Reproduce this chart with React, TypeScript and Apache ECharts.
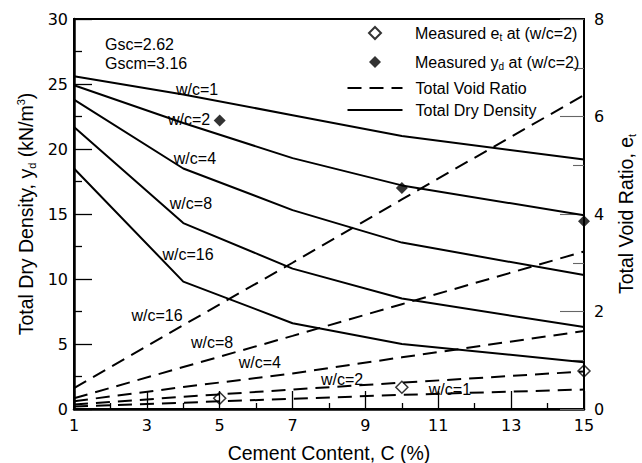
import React, { useEffect, useRef } from 'react';
import * as echarts from 'echarts';

// ---- data ----
const cementContent = [1, 4, 7, 10, 15];
const wcLabels = ['w/c=1', 'w/c=2', 'w/c=4', 'w/c=8', 'w/c=16'];

// total dry density (kN/m3), left axis
const dryDensityWc1 = [25.6, 24.2, 22.6, 21.0, 19.2];
const dryDensityWc2 = [24.9, 22.0, 19.3, 17.2, 14.9];
const dryDensityWc4 = [23.8, 18.5, 15.3, 12.8, 10.3];
const dryDensityWc8 = [21.7, 14.3, 10.8, 8.5, 6.3];
const dryDensityWc16 = [18.5, 9.8, 6.6, 5.0, 3.6];

// total void ratio, right axis
const voidRatioWc1 = [0.05, 0.13, 0.21, 0.29, 0.4];
const voidRatioWc2 = [0.09, 0.25, 0.4, 0.54, 0.77];
const voidRatioWc4 = [0.16, 0.45, 0.73, 1.06, 1.6];
const voidRatioWc8 = [0.22, 0.86, 1.5, 2.15, 3.23];
const voidRatioWc16 = [0.43, 1.72, 3.0, 4.3, 6.44];

// measured values at w/c=2
const measuredCement = [5, 10, 15];
const measuredVoidRatio = [0.22, 0.445, 0.78];
const measuredDryDensity = [22.2, 17.0, 14.45];

// ticks
const xTickValues = [1, 3, 5, 7, 9, 11, 13, 15];
const xMinorTickValues = [2, 4, 6, 8, 10, 12, 14];

// axis titles
const xTitle = 'Cement Content, C (%)';
const leftTitle = 'Total Dry Density, y{sub|d} (kN/m{sup|3})';
const rightTitle = 'Total Void Ratio, e{sub|t}';

// annotation anchors (data units)
const solidLabelAnchors = [
  [4.38, 24.54],
  [4.16, 22.3],
  [4.32, 19.3],
  [4.21, 15.77],
  [4.13, 11.85],
];
const dashedLabelAnchors = [
  [11.32, 0.41],
  [8.36, 0.615],
  [6.1, 0.964],
  [4.79, 1.354],
  [3.28, 1.91],
];

const FONT = '"Liberation Sans", Arial, Helvetica, sans-serif';
const NUM_FONT = '"DejaVu Sans", "Liberation Sans", sans-serif';

export default function App() {
  const ref = useRef<HTMLDivElement>(null);
  useEffect(() => {
    if (!ref.current) return;
    const chart = echarts.init(ref.current, null, { renderer: 'svg' });

    const dryAll = [dryDensityWc1, dryDensityWc2, dryDensityWc4, dryDensityWc8, dryDensityWc16];
    const voidAll = [voidRatioWc1, voidRatioWc2, voidRatioWc4, voidRatioWc8, voidRatioWc16];

    const labelMark = (coord: number[], text: string) => ({
      silent: true,
      symbol: 'circle',
      symbolSize: 1,
      itemStyle: { color: 'rgba(0,0,0,0)' },
      label: {
        show: true,
        position: 'inside',
        formatter: () => text,
        fontSize: 16,
        color: '#000',
        fontFamily: FONT,
      },
      data: [{ coord }],
    });

    const solidSeries = dryAll.map((arr, i) => ({
      type: 'line',
      name: 'Total Dry Density',
      yAxisIndex: 0,
      data: cementContent.map((c, j) => [c, arr[j]]),
      symbol: 'none',
      lineStyle: { color: '#000', width: 2 },
      itemStyle: { color: '#000' },
      markPoint: labelMark(solidLabelAnchors[i], wcLabels[i]),
    }));

    const dashedSeries = voidAll.map((arr, i) => ({
      type: 'line',
      name: 'Total Void Ratio',
      yAxisIndex: 1,
      data: cementContent.map((c, j) => [c, arr[j]]),
      symbol: 'none',
      lineStyle: { color: '#000', width: 2, type: [14, 8] },
      itemStyle: { color: '#000' },
      markPoint: labelMark(dashedLabelAnchors[i], wcLabels[i]),
    }));

    const legendNames: Record<string, string> = {
      'Measured e_t': '{gap|}Measured e{sub|t} at (w/c=2)',
      'Measured y_d': '{gap|}Measured y{sub|d} at (w/c=2)',
      'Total Void Ratio': '{gap|}Total Void Ratio',
      'Total Dry Density': '{gap|}Total Dry Density',
    };
    const makeRich = (gapWidth: number) => ({
      sub: { fontSize: 10, verticalAlign: 'bottom', lineHeight: 18, fontFamily: FONT, color: '#000' },
      gap: { width: gapWidth, lineHeight: 18 },
    });
    const hiddenMarker = { color: 'rgba(0,0,0,0)', borderColor: 'rgba(0,0,0,0)', borderWidth: 0 };
    const titleRich = {
      sub: { fontSize: 11, verticalAlign: 'bottom', lineHeight: 22, fontFamily: FONT, fill: '#000' },
      sup: { fontSize: 11, verticalAlign: 'top', lineHeight: 22, fontFamily: FONT, fill: '#000' },
    };
    const titleStyle = (text: string) => ({
      text,
      fontSize: 19.5,
      lineHeight: 22,
      fontFamily: FONT,
      fill: '#000',
      align: 'center',
      verticalAlign: 'middle',
      rich: titleRich,
    });

    const option: any = {
      animation: false,
      grid: {
        left: 74,
        right: 58,
        top: 19,
        bottom: 54,
        show: true,
        borderColor: '#000',
        borderWidth: 2,
        outerBoundsMode: 'none',
      },
      legend: [
        {
          orient: 'vertical',
          left: 368,
          top: 24,
          padding: 0,
          itemWidth: 12,
          itemHeight: 12,
          itemGap: 11,
          selectedMode: false,
          formatter: (name: string) => legendNames[name] || name,
          textStyle: { fontSize: 16, color: '#000', lineHeight: 18, fontFamily: FONT, rich: makeRich(29) },
          data: ['Measured e_t', 'Measured y_d'],
        },
        {
          orient: 'vertical',
          left: 346.5,
          top: 79,
          padding: 0,
          itemWidth: 55,
          itemHeight: 12,
          itemGap: 4,
          selectedMode: false,
          formatter: (name: string) => legendNames[name] || name,
          textStyle: { fontSize: 16, color: '#000', lineHeight: 18, fontFamily: FONT, rich: makeRich(8) },
          data: [
            { name: 'Total Void Ratio', itemStyle: hiddenMarker },
            { name: 'Total Dry Density', itemStyle: hiddenMarker },
          ],
        },
      ],
      xAxis: [
        {
          type: 'value',
          min: 1,
          max: 15,
          splitLine: { show: false },
          axisLine: { show: true, lineStyle: { color: '#000', width: 2.5 } },
          axisTick: {
            show: true,
            inside: true,
            length: 18,
            customValues: xTickValues,
            lineStyle: { color: '#000', width: 1.3 },
          },
          axisLabel: {
            customValues: xTickValues,
            fontSize: 16,
            color: '#000',
            margin: 8,
            fontFamily: NUM_FONT,
          },
        },
        {
          type: 'value',
          min: 1,
          max: 15,
          position: 'bottom',
          axisLine: { show: false },
          splitLine: { show: false },
          axisTick: {
            show: true,
            inside: true,
            length: 6,
            customValues: xMinorTickValues,
            lineStyle: { color: '#000', width: 1.3 },
          },
          axisLabel: { show: false },
        },
      ],
      yAxis: [
        {
          type: 'value',
          min: 0,
          max: 30,
          interval: 5,
          splitLine: { show: false },
          axisLine: { show: true, lineStyle: { color: '#000', width: 2.5 } },
          axisTick: { show: true, inside: true, length: 18, lineStyle: { color: '#000', width: 1.3 } },
          minorTick: { show: true, splitNumber: 2, length: 8, lineStyle: { color: '#000', width: 1.3 } },
          axisLabel: { fontSize: 16, color: '#000', margin: 6, fontFamily: NUM_FONT },
        },
        {
          type: 'value',
          min: 0,
          max: 8,
          interval: 2,
          position: 'right',
          splitLine: { show: false },
          axisLine: { show: true, lineStyle: { color: '#000', width: 2 } },
          axisTick: { show: true, inside: true, length: 24, lineStyle: { color: '#666', width: 1.1 } },
          minorTick: { show: true, splitNumber: 2, length: 11, lineStyle: { color: '#666', width: 1.1 } },
          axisLabel: { fontSize: 16, color: '#000', margin: 10, fontFamily: NUM_FONT },
        },
      ],
      graphic: [
        {
          type: 'text',
          left: 105,
          top: 34.5,
          silent: true,
          style: {
            text: 'Gsc=2.62\nGscm=3.16',
            fontSize: 16,
            lineHeight: 19,
            fill: '#000',
            fontFamily: FONT,
          },
        },
        { type: 'text', x: 329, y: 453, silent: true, style: titleStyle(xTitle) },
        { type: 'text', x: 26, y: 214, rotation: Math.PI / 2, silent: true, style: titleStyle(leftTitle) },
        { type: 'text', x: 626, y: 214, rotation: Math.PI / 2, silent: true, style: titleStyle(rightTitle) },
      ],
      series: [
        ...solidSeries,
        ...dashedSeries,
        {
          type: 'scatter',
          name: 'Measured e_t',
          yAxisIndex: 1,
          data: measuredCement.map((c, j) => [c, measuredVoidRatio[j]]),
          symbol: 'diamond',
          symbolSize: 12,
          itemStyle: { color: 'rgba(255,255,255,0)', borderColor: '#000', borderWidth: 1.5 },
          z: 5,
        },
        {
          type: 'scatter',
          name: 'Measured y_d',
          yAxisIndex: 0,
          data: measuredCement.map((c, j) => [c, measuredDryDensity[j]]),
          symbol: 'diamond',
          symbolSize: 12,
          itemStyle: { color: '#000' },
          z: 5,
        },
      ],
    };

    chart.setOption(option);
    return () => chart.dispose();
  }, []);

  return (
    <div
      ref={ref}
      style={{ position: 'fixed', left: 0, top: 0, width: 642, height: 463, background: '#fff' }}
    />
  );
}
